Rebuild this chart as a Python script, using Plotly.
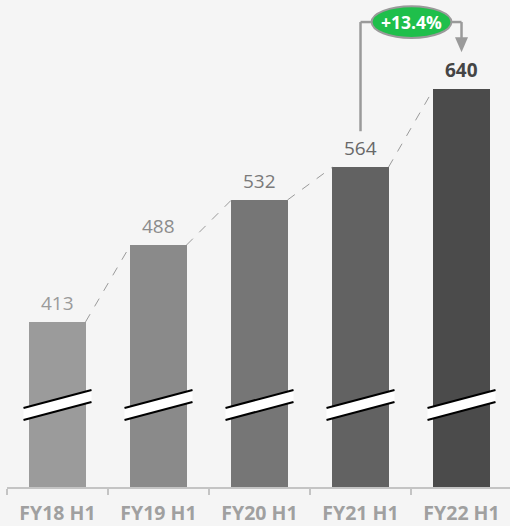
import plotly.graph_objects as go

categories = ["FY18 H1", "FY19 H1", "FY20 H1", "FY21 H1", "FY22 H1"]
values = [413, 488, 532, 564, 640]
bar_colors = ["#9b9b9b", "#8a8a8a", "#767676", "#626262", "#4b4b4b"]
label_colors = ["#9a9a9a", "#8c8c8c", "#7a7a7a", "#686868", "#454545"]
growth_label = "+13.4%"

Y_MIN, Y_MAX = 252, 727
BAR_W = 0.555
BREAK_Y = 332
FONT = "Open Sans"

fig = go.Figure(go.Bar(
    x=categories, y=values, width=BAR_W,
    marker=dict(color=bar_colors, line_width=0),
    hoverinfo="skip", showlegend=False,
))

shapes = []
annotations = []

# value labels
for i, (c, v) in enumerate(zip(categories, values)):
    last = i == len(values) - 1
    annotations.append(dict(
        x=c, y=v, xref="x", yref="y", text=f"<b>{v}</b>" if last else str(v),
        showarrow=False, yanchor="bottom", yshift=4,
        font=dict(family=FONT, size=19, color=label_colors[i]),
    ))

# dashed connectors between bar tops
for i in range(len(values) - 1):
    shapes.append(dict(
        type="line", xref="x", yref="y",
        x0=i + BAR_W / 2, y0=values[i], x1=i + 1 - BAR_W / 2, y1=values[i + 1],
        line=dict(color="#9a9a9a", width=1, dash="dash"), layer="above",
    ))

# axis break marks
for i in range(len(values)):
    common = dict(type="path", xref="x", yref="y", xsizemode="pixel", ysizemode="pixel",
                  xanchor=i, yanchor=BREAK_Y, layer="above")
    shapes.append(dict(common, path="M -34,-3 L 34,15 L 34,3 L -34,-15 Z",
                       fillcolor="white", line=dict(width=0)))
    shapes.append(dict(common, path="M -34,-3 L 34,15", line=dict(color="black", width=2)))
    shapes.append(dict(common, path="M -34,-15 L 34,3", line=dict(color="black", width=2)))

# growth callout
src, dst = 3, 4
ell_y0, ell_y1 = 690, 721
ell_yc = (ell_y0 + ell_y1) / 2
ell_x0, ell_x1 = 3.11, 3.90
gray = "#9a9a9a"
shapes.append(dict(type="line", xref="x", yref="y", x0=src, x1=src, y0=values[src] + 35, y1=ell_yc,
                   line=dict(color=gray, width=2.5)))
shapes.append(dict(type="line", xref="x", yref="y", x0=src, x1=ell_x0, y0=ell_yc, y1=ell_yc,
                   line=dict(color=gray, width=2.5)))
shapes.append(dict(type="line", xref="x", yref="y", x0=ell_x1, x1=dst, y0=ell_yc, y1=ell_yc,
                   line=dict(color=gray, width=2.5)))
shapes.append(dict(type="line", xref="x", yref="y", x0=dst, x1=dst, y0=ell_yc, y1=values[dst] + 50,
                   line=dict(color=gray, width=2.5)))
shapes.append(dict(type="path", xref="x", yref="y", xsizemode="pixel", ysizemode="pixel",
                   xanchor=dst, yanchor=values[dst] + 36,
                   path="M -6.5,15 L 6.5,15 L 0,0 Z", fillcolor=gray, line=dict(width=0)))
shapes.append(dict(type="circle", xref="x", yref="y", x0=ell_x0, x1=ell_x1, y0=ell_y0, y1=ell_y1,
                   fillcolor="#1fbf4b", line=dict(color=gray, width=2)))
annotations.append(dict(x=(ell_x0 + ell_x1) / 2, y=ell_yc, xref="x", yref="y",
                        text=f"<b>{growth_label}</b>", showarrow=False,
                        font=dict(family=FONT, size=17.5, color="white")))

fig.update_layout(
    width=510, height=526,
    margin=dict(l=7, r=0, t=0, b=39),
    paper_bgcolor="#f5f5f5", plot_bgcolor="#f5f5f5",
    shapes=shapes, annotations=annotations,
    bargap=0,
    xaxis=dict(
        type="category", range=[-0.5, 4.48],
        showline=True, linecolor="#c4c4c4", linewidth=2,
        ticks="outside", tickson="boundaries", ticklen=6, tickcolor="#c4c4c4", tickwidth=2,
        showgrid=False, zeroline=False, ticklabelstandoff=8,
        tickfont=dict(family=FONT, size=19.5, color="#a0a0a0", weight="bold"),
    ),
    yaxis=dict(range=[Y_MIN, Y_MAX], visible=False, showgrid=False, zeroline=False),
)

fig.write_html("out.html")
